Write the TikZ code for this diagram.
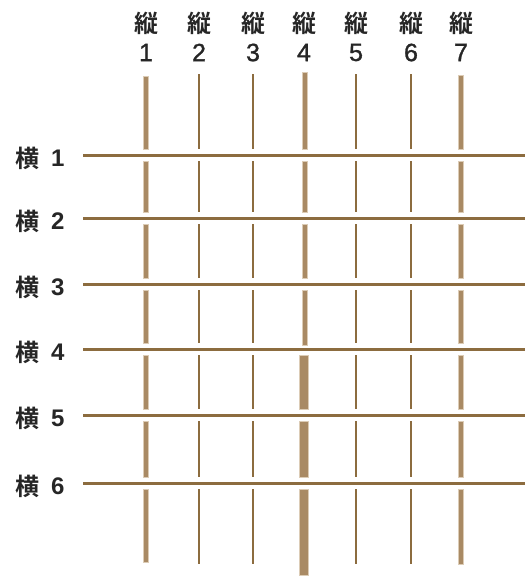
\documentclass[tikz,border=0pt]{standalone}
\usepackage{fontspec}
\setmainfont{Noto Sans CJK JP}[BoldFont={Noto Sans CJK JP Bold}]
\newfontfamily\digitfont{Liberation Sans}[FakeBold=1.2]
\newfontfamily\digitbold{Liberation Sans Bold}
\definecolor{thread}{HTML}{8C6C3F}
\definecolor{thickfill}{HTML}{A98A64}
\definecolor{thickedge}{HTML}{DCCCB6}
\begin{document}
\begin{tikzpicture}[x=1pt,y=-1pt,
  lab/.style={font=\fontsize{24}{26}\selectfont\bfseries, text=black!85, inner sep=0pt},
  num/.style={font=\fontsize{25}{26}\digitfont, text=black!85, inner sep=0pt},
  rnum/.style={font=\fontsize{24}{26}\digitbold, text=black!85, inner sep=0pt},
  weft/.style={draw=thread, line width=3pt},
  thinwarp/.style={draw=thread, line width=2pt},
  thickwarp/.style={fill=thickfill, draw=thickedge, line width=0.7pt}]
\useasboundingbox (0,0) rectangle (528,576);
% column x positions
\def\cols{146,199,253,304,356,411,461}
% top labels
\foreach \x [count=\i] in \cols {
  \node[lab] (k\i) at (\x,23) {縦};
  \node[num] (n\i) at (\x,52.5) {\i};
}
% rows
\foreach \y [count=\j] in {155,218,284,349,415,483} {
  \node[lab, anchor=west] (r\j) at (15,\y+3) {横};
  \node[rnum, anchor=west] (d\j) at (51,\y+3) {\j};
  \coordinate (rs\j) at (83,\y);
  \coordinate (re\j) at (525,\y);
  \draw[weft] (rs\j) -- (re\j);
}
% vertical thin segments
\foreach \x/\top/\bot in {199/74/564,253/74/564,356/74/564,411/74/564} {
  \foreach \a/\b in {\top/149,161/212,224/278,290/343,355/409,421/477,489/\bot}
    \draw[thinwarp] (\x,\a) -- (\x,\b);
}
% thick warps columns 1 and 7
\foreach \x/\top/\bot in {146/76/562,461/75/564} {
  \foreach \a/\b in {\top/149,161/212,224/278,290/343,355/409,421/477,489/\bot}
    \draw[thickwarp] (\x-2.6,\a) rectangle (\x+2.6,\b);
}
% column 4: thinner-thick above row 4, wide below
\foreach \a/\b in {72/149,161/212,224/278,290/345}
  \draw[thickwarp] (304.5-2.6,\a) rectangle (304.5+2.6,\b);
\foreach \a/\b in {355/409,421/477,489/575}
  \draw[thickwarp] (304-4.7,\a) rectangle (304+4.7,\b);
\end{tikzpicture}
\end{document}
